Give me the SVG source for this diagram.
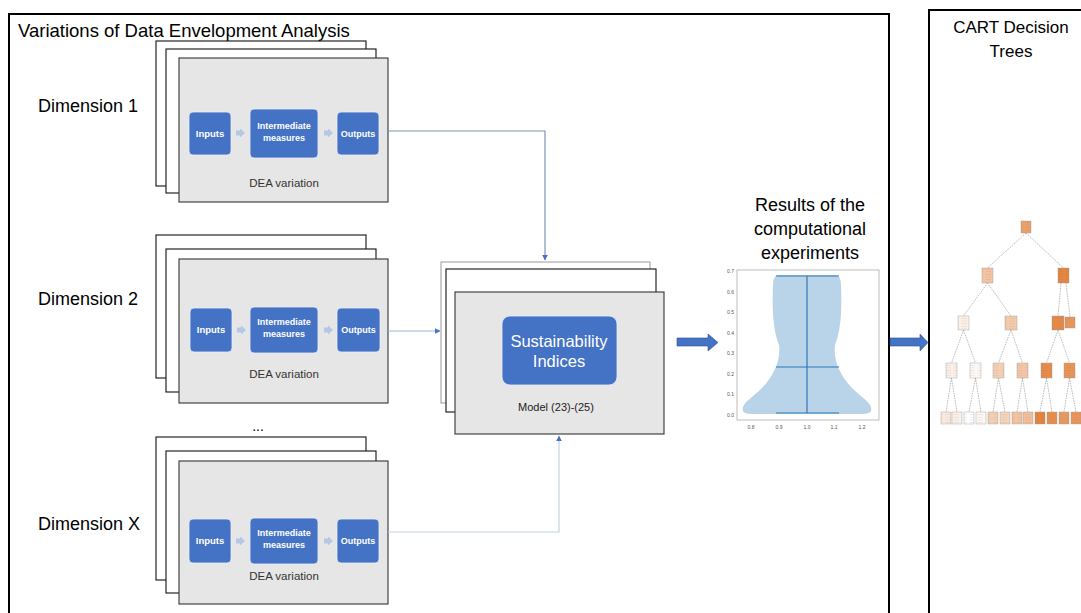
<svg xmlns="http://www.w3.org/2000/svg" width="1081" height="613" viewBox="0 0 1081 613">
<style>
.lbl{font-family:"Liberation Sans",Arial,sans-serif;fill:#000}
.big{font-size:18px}
.blue{fill:#4472c4;stroke:#e8eef8;stroke-width:0.8}
.bt{font-family:"Liberation Sans",Arial,sans-serif;font-weight:bold;fill:#fff;text-anchor:middle}
.dea{font-family:"Liberation Sans",Arial,sans-serif;font-size:11.5px;fill:#333;text-anchor:middle}
.back{fill:#fff;stroke:#111;stroke-width:1.1}
.front{fill:#e7e6e6;stroke:#333;stroke-width:1.1}
.chev{fill:#b4c7e7}
.conn{fill:none;stroke-width:1.2}
.tick{font-family:"Liberation Sans",Arial,sans-serif;font-size:5px;fill:#555}
.tn{stroke:#9a9a9a;stroke-width:0.4}
.te{stroke:#8a8a8a;stroke-width:0.6;stroke-dasharray:1.5 1;fill:none}
.vl{stroke:#2f77b4;stroke-width:1.2;fill:none}
</style>
<defs>
<marker id="ah" viewBox="0 0 10 10" refX="9" refY="5" markerWidth="6" markerHeight="6" orient="auto" markerUnits="userSpaceOnUse">
<path d="M0,0 L10,5 L0,10 Z" fill="#4472c4"/>
</marker>
<pattern id="tx" width="8" height="2.6" patternUnits="userSpaceOnUse">
<line x1="1.5" y1="1.3" x2="7" y2="1.3" stroke="#666" stroke-width="0.4" opacity="0.3"/>
</pattern>
</defs>

<rect width="1081" height="613" fill="#fff"/>

<!-- frames -->
<g id="frame-dea">
<path d="M9,616 V14 H889 V616" fill="none" stroke="#000" stroke-width="2"/>
<text class="lbl" font-size="18.5" x="18" y="37">Variations of Data Envelopment Analysis</text>
</g>
<g id="frame-cart">
<path d="M929,616 V10 H1084" fill="none" stroke="#000" stroke-width="2"/>
<text class="lbl" font-size="17" x="1011" y="33" text-anchor="middle">CART Decision</text>
<text class="lbl" font-size="17" x="1011" y="57" text-anchor="middle">Trees</text>
</g>

<!-- Dimension labels -->
<text class="lbl big" x="38" y="112">Dimension 1</text>
<text class="lbl big" x="38" y="305">Dimension 2</text>
<text class="lbl big" x="38" y="530">Dimension X</text>
<text class="lbl" font-size="14" x="258" y="431" text-anchor="middle">...</text>

<!-- Dimension 1 -->
<g id="dim1">
<rect class="back" x="156" y="41" width="210" height="145"/>
<rect class="back" x="166" y="49" width="210" height="144"/>
<rect class="front" x="179" y="58" width="209" height="144"/>
<rect class="blue" x="189" y="112" width="42" height="43" rx="4"/>
<text class="bt" font-size="9.5" x="210" y="137">Inputs</text>
<polygon class="chev" points="236,130.5 240,130.5 240,128.5 245,133 240,137.5 240,135.5 236,135.5"/>
<rect class="blue" x="250" y="109" width="68" height="49" rx="4"/>
<text class="bt" font-size="9" x="284" y="129">Intermediate</text>
<text class="bt" font-size="9" x="284" y="141">measures</text>
<polygon class="chev" points="324,130.5 328,130.5 328,128.5 333,133 328,137.5 328,135.5 324,135.5"/>
<rect class="blue" x="337" y="112" width="42" height="43" rx="4"/>
<text class="bt" font-size="9" x="358" y="137">Outputs</text>
<text class="dea" x="284" y="187">DEA variation</text>
</g>

<!-- Dimension 2 -->
<g id="dim2">
<rect class="back" x="156" y="235" width="210" height="143"/>
<rect class="back" x="166" y="249" width="210" height="143"/>
<rect class="front" x="179" y="259" width="209" height="144"/>
<rect class="blue" x="190" y="308" width="42" height="44" rx="4"/>
<text class="bt" font-size="9.5" x="211" y="333">Inputs</text>
<polygon class="chev" points="237,327.5 241,327.5 241,325.5 246,330 241,334.5 241,332.5 237,332.5"/>
<rect class="blue" x="250" y="307" width="68" height="46" rx="4"/>
<text class="bt" font-size="9" x="284" y="325">Intermediate</text>
<text class="bt" font-size="9" x="284" y="337">measures</text>
<polygon class="chev" points="324,327.5 328,327.5 328,325.5 333,330 328,334.5 328,332.5 324,332.5"/>
<rect class="blue" x="337" y="308" width="43" height="44" rx="4"/>
<text class="bt" font-size="9" x="358.5" y="333">Outputs</text>
<text class="dea" x="284" y="378">DEA variation</text>
</g>

<!-- Dimension X -->
<g id="dimx">
<rect class="back" x="156" y="437" width="210" height="143"/>
<rect class="back" x="166" y="451" width="210" height="142" stroke="#888"/>
<rect class="front" x="179" y="461" width="209" height="143"/>
<rect class="blue" x="189" y="519" width="42" height="44" rx="4"/>
<text class="bt" font-size="9.5" x="210" y="544">Inputs</text>
<polygon class="chev" points="236,538.5 240,538.5 240,536.5 245,541 240,545.5 240,543.5 236,543.5"/>
<rect class="blue" x="250" y="518" width="68" height="46" rx="4"/>
<text class="bt" font-size="9" x="284" y="536">Intermediate</text>
<text class="bt" font-size="9" x="284" y="548">measures</text>
<polygon class="chev" points="324,538.5 328,538.5 328,536.5 333,541 328,545.5 328,543.5 324,543.5"/>
<rect class="blue" x="337" y="519" width="42" height="44" rx="4"/>
<text class="bt" font-size="9" x="358" y="544">Outputs</text>
<text class="dea" x="284" y="580">DEA variation</text>
</g>

<!-- Model box -->
<g id="model">
<rect x="441" y="262" width="209" height="141" fill="#fff" stroke="#999" stroke-width="1"/>
<rect class="back" x="446" y="269" width="210" height="143"/>
<rect class="front" x="455" y="292" width="209" height="142" stroke="#111"/>
<rect x="502" y="316" width="115" height="69" rx="8" fill="#4472c4" stroke="#e8eef8" stroke-width="0.8"/>
<text x="559" y="347" font-family="'Liberation Sans',Arial,sans-serif" font-size="16.5" fill="#fff" text-anchor="middle">Sustainability</text>
<text x="559" y="367" font-family="'Liberation Sans',Arial,sans-serif" font-size="16.5" fill="#fff" text-anchor="middle">Indices</text>
<text x="556" y="411" font-family="'Liberation Sans',Arial,sans-serif" font-size="11" fill="#222" text-anchor="middle">Model (23)-(25)</text>
</g>

<!-- connectors -->
<g id="connectors">
<path class="conn" d="M388,131 H545 V260" stroke="#7d95b3" marker-end="url(#ah)"/>
<path class="conn" d="M388,331 H440" stroke="#9fb6d4" marker-end="url(#ah)"/>
<path class="conn" d="M388,532 H559 V436" stroke="#c3d2e6" stroke-width="1.5" marker-end="url(#ah)"/>
<polygon points="677,338 708,338 708,334 718,342.5 708,351 708,346 677,346" fill="#4472c4" stroke="#2f528f" stroke-width="0.6"/>
<polygon points="890,338 920,338 920,334 928,342.5 920,351 920,346 890,346" fill="#4472c4" stroke="#2f528f" stroke-width="0.6"/>
</g>

<!-- Results -->
<g id="results">
<text class="lbl big" x="810" y="211" text-anchor="middle">Results of the</text>
<text class="lbl big" x="810" y="235" text-anchor="middle">computational</text>
<text class="lbl big" x="810" y="259" text-anchor="middle">experiments</text>
<rect x="737" y="270" width="142" height="150" fill="#fff" stroke="#a0a0a0" stroke-width="0.7"/>
<path d="M807,275 L836,275 Q841,276 841,285 C842,310 841,330 835,345 C833,360 840,375 852,388 C862,398 873,403 871,411 Q870,414 862,414 L752,414 Q744,414 743,411 C741,403 752,398 762,388 C774,375 781,360 779,345 C773,330 772,310 773,285 Q773,276 778,275 Z" fill="#b9d4e9"/>
<path class="vl" d="M807,276 V413 M776,276 H839 M776,367 H839 M776,413 H839"/>
<g class="tick" text-anchor="end">
<text x="734" y="417">0.0</text>
<text x="734" y="396">0.1</text>
<text x="734" y="376">0.2</text>
<text x="734" y="355">0.3</text>
<text x="734" y="335">0.4</text>
<text x="734" y="314">0.5</text>
<text x="734" y="294">0.6</text>
<text x="734" y="273">0.7</text>
</g>
<g class="tick" text-anchor="middle">
<text x="751" y="429">0.8</text>
<text x="779" y="429">0.9</text>
<text x="807" y="429">1.0</text>
<text x="834" y="429">1.1</text>
<text x="862" y="429">1.2</text>
</g>
</g>

<!-- CART tree -->
<g id="tree">
<g id="tree-edges">
<path class="te" d="M1026,233 L987.5,268 M1026,233 L1063.5,268 M987.5,283 L963.5,316 M987.5,283 L1011,316 M1061,283 L1058,316 M1066,283 L1070,317 M963.5,330 L951.5,363 M963.5,330 L975.5,363 M1011,330 L998.5,363 M1011,330 L1022.5,363 M1058,330 L1046.5,363 M1058,330 L1069.5,363 M951.5,378 L946,412 M951.5,378 L957,412 M975.5,378 L969,412 M975.5,378 L981,412 M998.5,378 L993,412 M998.5,378 L1005,412 M1022.5,378 L1017,412 M1022.5,378 L1028,412 M1046.5,378 L1040,412 M1046.5,378 L1052,412 M1069.5,378 L1064,412 M1069.5,378 L1076,412"/>
</g>
<g id="tree-nodes" class="tn">
<rect x="1021" y="221" width="10" height="12" fill="#eba06c"/>
<rect x="982" y="268" width="11" height="15" fill="#f3c4a2"/>
<rect x="1058" y="268" width="11" height="15" fill="#e5853f"/>
<rect x="958" y="316" width="11" height="14" fill="#fbefe6"/>
<rect x="1005" y="316" width="12" height="14" fill="#f4caa9"/>
<rect x="1052" y="316" width="12" height="14" fill="#e6894a"/>
<rect x="1065" y="317" width="10" height="11" fill="#e99759"/>
<rect x="946" y="363" width="11" height="15" fill="#fbf0e8"/>
<rect x="970" y="363" width="11" height="15" fill="#fdf8f4"/>
<rect x="993" y="363" width="11" height="15" fill="#f5d0b5"/>
<rect x="1017" y="363" width="11" height="15" fill="#f3c6a5"/>
<rect x="1041" y="363" width="11" height="15" fill="#e68b4a"/>
<rect x="1064" y="363" width="11" height="15" fill="#e89455"/>
<rect x="941" y="412" width="10" height="12" fill="#fae9dd"/>
<rect x="952" y="412" width="10" height="12" fill="#fbf0e8"/>
<rect x="964" y="412" width="10" height="12" fill="#ffffff"/>
<rect x="976" y="412" width="10" height="12" fill="#fdf6f1"/>
<rect x="988" y="412" width="10" height="12" fill="#f5cfb3"/>
<rect x="1000" y="412" width="10" height="12" fill="#f6d4bb"/>
<rect x="1012" y="412" width="10" height="12" fill="#f3c4a1"/>
<rect x="1023" y="412" width="10" height="12" fill="#f2bf9a"/>
<rect x="1035" y="412" width="10" height="12" fill="#e5833d"/>
<rect x="1047" y="412" width="10" height="12" fill="#e88e4d"/>
<rect x="1059" y="412" width="10" height="12" fill="#ea995e"/>
<rect x="1071" y="412" width="10" height="12" fill="#e9955a"/>
</g>
<g id="tree-node-text" fill="url(#tx)">
<rect x="1021" y="222" width="10" height="10"/>
<rect x="982" y="269" width="11" height="13"/>
<rect x="1058" y="269" width="11" height="13"/>
<rect x="958" y="317" width="11" height="12"/>
<rect x="1005" y="317" width="12" height="12"/>
<rect x="1052" y="317" width="12" height="12"/>
<rect x="1065" y="318" width="10" height="9"/>
<rect x="946" y="364" width="11" height="13"/>
<rect x="970" y="364" width="11" height="13"/>
<rect x="993" y="364" width="11" height="13"/>
<rect x="1017" y="364" width="11" height="13"/>
<rect x="1041" y="364" width="11" height="13"/>
<rect x="1064" y="364" width="11" height="13"/>
<rect x="941" y="413" width="10" height="10"/>
<rect x="952" y="413" width="10" height="10"/>
<rect x="964" y="413" width="10" height="10"/>
<rect x="976" y="413" width="10" height="10"/>
<rect x="988" y="413" width="10" height="10"/>
<rect x="1000" y="413" width="10" height="10"/>
<rect x="1012" y="413" width="10" height="10"/>
<rect x="1023" y="413" width="10" height="10"/>
<rect x="1035" y="413" width="10" height="10"/>
<rect x="1047" y="413" width="10" height="10"/>
<rect x="1059" y="413" width="10" height="10"/>
<rect x="1071" y="413" width="10" height="10"/>
</g>
</g>
</svg>
